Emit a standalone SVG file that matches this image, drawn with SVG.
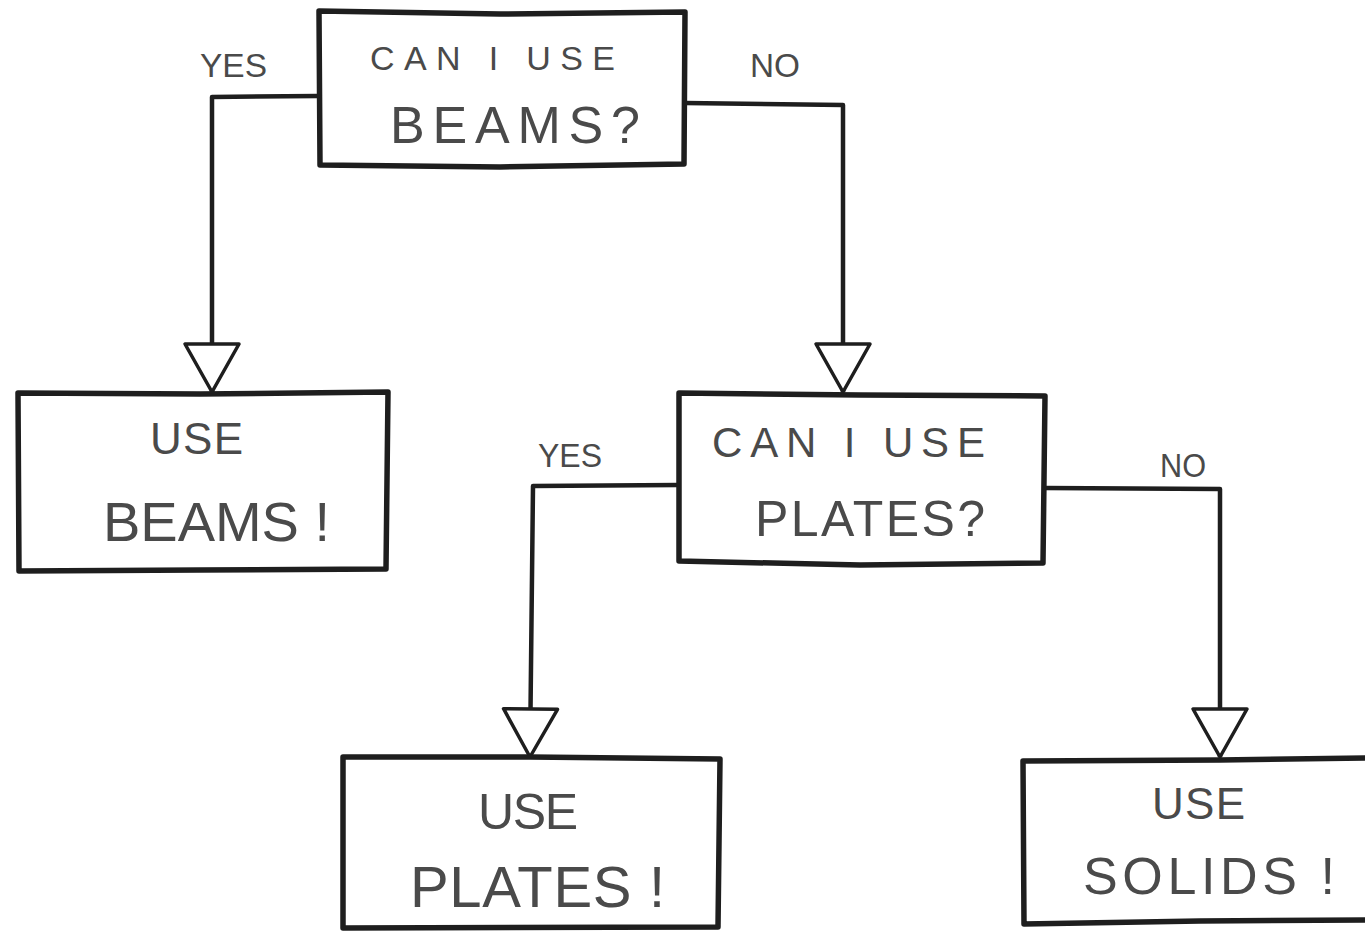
<svg xmlns="http://www.w3.org/2000/svg" width="1365" height="931" viewBox="0 0 1365 931">
<style>
.box{fill:#fff;stroke:#1e1e1e;stroke-width:5.5;stroke-linejoin:round}
.wire{fill:none;stroke:#1e1e1e;stroke-width:4.5;stroke-linejoin:round;marker-end:url(#tri)}
.t{font-family:"Liberation Sans",Arial,sans-serif;fill:#4a4a4a;text-anchor:start}
.lbl{font-family:"Liberation Sans",Arial,sans-serif;fill:#4a4a4a;font-size:34px}
</style>
<defs>
<marker id="tri" viewBox="-4 -4 58 62" markerWidth="58" markerHeight="62" markerUnits="userSpaceOnUse" orient="auto" refX="48" refY="27">
<path d="M0,0 L48,27 L0,54 Z" fill="#fff" stroke="#1e1e1e" stroke-width="3.5" stroke-linejoin="round"/>
</marker>
</defs>
<rect width="1365" height="931" fill="#fff"/>
<g id="connectors">
<path class="wire" d="M318,96 L212,97 L212,392"/>
<path class="wire" d="M685,103 L843,105 L843,392"/>
<path class="wire" d="M678,485 L533,486 L530,757"/>
<path class="wire" d="M1045,488 L1220,489 L1220,757"/>
<text class="lbl" x="200" y="77" textLength="67" lengthAdjust="spacingAndGlyphs">YES</text>
<text class="lbl" x="750" y="77" textLength="50" lengthAdjust="spacingAndGlyphs">NO</text>
<text class="lbl" x="538" y="467" textLength="64" lengthAdjust="spacingAndGlyphs">YES</text>
<text class="lbl" x="1160" y="477" textLength="46" lengthAdjust="spacingAndGlyphs">NO</text>
</g>
<g id="q-beams">
<path class="box" d="M319,11 L500,14 L685,12 L684,164 L500,167 L320,165 Z"/>
<text class="t" x="370" y="70" font-size="34" textLength="245" lengthAdjust="spacing">CAN I USE</text>
<text class="t" x="390" y="143" font-size="52" textLength="250" lengthAdjust="spacing">BEAMS?</text>
</g>
<g id="use-beams">
<path class="box" d="M18,393 L200,394 L388,392 L386,569 L200,570 L19,571 Z"/>
<text class="t" x="150" y="454" font-size="44" textLength="93" lengthAdjust="spacing">USE</text>
<text class="t" x="103" y="541" font-size="56" textLength="227" lengthAdjust="spacing">BEAMS !</text>
</g>
<g id="q-plates">
<path class="box" d="M679,393 L860,395 L1045,396 L1043,563 L860,565 L679,561 Z"/>
<text class="t" x="712" y="457" font-size="42" textLength="273" lengthAdjust="spacing">CAN I USE</text>
<text class="t" x="755" y="536" font-size="50" textLength="230" lengthAdjust="spacing">PLATES?</text>
</g>
<g id="use-plates">
<path class="box" d="M343,757 L530,757 L720,759 L718,927 L343,928 Z"/>
<text class="t" x="478" y="829" font-size="50" textLength="100" lengthAdjust="spacing">USE</text>
<text class="t" x="410" y="907" font-size="58" textLength="255" lengthAdjust="spacing">PLATES !</text>
</g>
<g id="use-solids">
<path class="box" d="M1023,761 L1220,760 L1370,758 L1370,920 L1200,921 L1024,924 Z"/>
<text class="t" x="1152" y="819" font-size="44" textLength="93" lengthAdjust="spacing">USE</text>
<text class="t" x="1083" y="894" font-size="52" textLength="252" lengthAdjust="spacing">SOLIDS !</text>
</g>
</svg>
